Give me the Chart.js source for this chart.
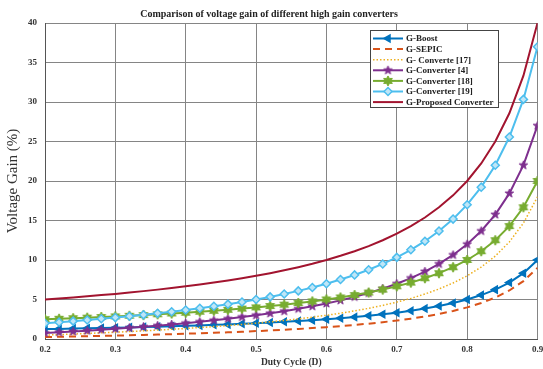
<!DOCTYPE html>
<html>
<head>
<meta charset="utf-8">
<script src="https://cdn.jsdelivr.net/npm/chart.js@4.4.0/dist/chart.umd.min.js"></script>
<style>
    html, body { margin: 0; padding: 0; background: #fff; }
    #wrap { width: 543px; height: 369px; }
</style>
</head>
<body>
<div id="wrap"><canvas id="gainChart" width="543" height="369"></canvas></div>
<script>
// Данные
const dutyCycle = [0.20, 0.22, 0.24, 0.26, 0.28, 0.30, 0.32, 0.34, 0.36, 0.38, 0.40, 0.42,
    0.44, 0.46, 0.48, 0.50, 0.52, 0.54, 0.56, 0.58, 0.60, 0.62, 0.64, 0.66,
    0.68, 0.70, 0.72, 0.74, 0.76, 0.78, 0.80, 0.82, 0.84, 0.86, 0.88, 0.90];

const gBoost = [1.25, 1.28, 1.32, 1.35, 1.39, 1.43, 1.47, 1.52, 1.56, 1.61, 1.67, 1.72,
    1.79, 1.85, 1.92, 2.00, 2.08, 2.17, 2.27, 2.38, 2.50, 2.63, 2.78, 2.94,
    3.13, 3.33, 3.57, 3.85, 4.17, 4.55, 5.00, 5.56, 6.25, 7.14, 8.33, 10.00];

const gSepic = [0.25, 0.28, 0.32, 0.35, 0.39, 0.43, 0.47, 0.52, 0.56, 0.61, 0.67, 0.72,
    0.79, 0.85, 0.92, 1.00, 1.08, 1.17, 1.27, 1.38, 1.50, 1.63, 1.78, 1.94,
    2.13, 2.33, 2.57, 2.85, 3.17, 3.55, 4.00, 4.56, 5.25, 6.14, 7.33, 9.00];

const gConv17 = [0.50, 0.56, 0.63, 0.70, 0.78, 0.86, 0.94, 1.03, 1.13, 1.23, 1.33, 1.45,
    1.57, 1.70, 1.85, 2.00, 2.17, 2.35, 2.55, 2.76, 3.00, 3.26, 3.56, 3.88,
    4.25, 4.67, 5.14, 5.69, 6.33, 7.09, 8.00, 9.11, 10.50, 12.29, 14.67, 18.00];

const gConv4 = [0.75, 0.85, 0.95, 1.05, 1.17, 1.29, 1.41, 1.55, 1.69, 1.84, 2.00, 2.17,
    2.36, 2.56, 2.77, 3.00, 3.25, 3.52, 3.82, 4.14, 4.50, 4.89, 5.33, 5.82,
    6.38, 7.00, 7.71, 8.54, 9.50, 10.64, 12.00, 13.67, 15.75, 18.43, 22.00, 27.00];

const gConv18 = [2.50, 2.56, 2.63, 2.70, 2.78, 2.86, 2.94, 3.03, 3.13, 3.23, 3.33, 3.45,
    3.57, 3.70, 3.85, 4.00, 4.17, 4.35, 4.55, 4.76, 5.00, 5.26, 5.56, 5.88,
    6.25, 6.67, 7.14, 7.69, 8.33, 9.09, 10.00, 11.11, 12.50, 14.29, 16.67, 20.00];

const gConv19 = [2.00, 2.13, 2.26, 2.41, 2.56, 2.71, 2.88, 3.06, 3.25, 3.45, 3.67, 3.90,
    4.14, 4.41, 4.69, 5.00, 5.33, 5.70, 6.09, 6.52, 7.00, 7.53, 8.11, 8.76,
    9.50, 10.33, 11.29, 12.38, 13.67, 15.18, 17.00, 19.22, 22.00, 25.57, 30.33, 37.00];

const gProposed = [5.00, 5.13, 5.26, 5.41, 5.56, 5.71, 5.88, 6.06, 6.25, 6.45, 6.67, 6.90,
    7.14, 7.41, 7.69, 8.00, 8.33, 8.70, 9.09, 9.52, 10.00, 10.53, 11.11, 11.76,
    12.50, 13.33, 14.29, 15.38, 16.67, 18.18, 20.00, 22.22, 25.00, 28.57, 33.33, 40.00];

const seriesNames = ["G-Boost", "G-SEPIC", "G- Converte [17]", "G-Converter [4]",
    "G-Converter [18]", "G-Converter [19]", "G-Proposed Converter"];

const serif = "'Liberation Serif', 'Times New Roman', serif";

// Маркер-звезда на отдельном canvas
function starMarker(spikes, outer, inner, fill, stroke) {
    const size = Math.ceil(outer * 2 + 2);
    const c = document.createElement("canvas");
    c.width = size;
    c.height = size;
    const g = c.getContext("2d");
    g.beginPath();
    for (let i = 0; i < spikes * 2; i++) {
        const r = i % 2 ? inner : outer;
        const a = -Math.PI / 2 + i * Math.PI / spikes;
        g.lineTo(size / 2 + r * Math.cos(a), size / 2 + r * Math.sin(a));
    }
    g.closePath();
    g.fillStyle = fill;
    g.fill();
    g.strokeStyle = stroke;
    g.lineWidth = 1;
    g.stroke();
    return c;
}

function toPoints(values) {
    return values.map((v, i) => ({ x: dutyCycle[i], y: v }));
}

const purpleStar = starMarker(5, 4.5, 1.8, "#7E2F8E", "#7E2F8E");
const greenStar = starMarker(6, 5, 2.8, "#77AC30", "#77AC30");

const datasets = [
    { data: gBoost, color: "#0072BD", width: 2, style: "triangle", rotation: -90, radius: 4, bg: "#0072BD" },
    { data: gSepic, color: "#D95319", width: 2, dash: [7, 5] },
    { data: gConv17, color: "#EDB120", width: 1.5, dash: [1.5, 2] },
    { data: gConv4, color: "#7E2F8E", width: 2, style: purpleStar, radius: 4 },
    { data: gConv18, color: "#77AC30", width: 2, style: greenStar, radius: 4 },
    { data: gConv19, color: "#4DBEEE", width: 2, style: "rectRot", radius: 4, bg: "#bfe6f7" },
    { data: gProposed, color: "#A2142F", width: 2 }
].map((d, i) => ({
    label: seriesNames[i],
    data: toPoints(d.data),
    borderColor: d.color,
    backgroundColor: d.bg || d.color,
    borderWidth: d.width,
    borderDash: d.dash || [],
    pointStyle: d.style || false,
    pointRotation: d.rotation || 0,
    pointRadius: d.style ? d.radius : 0,
    pointBorderWidth: 1.5,
    pointBorderColor: d.color,
    pointBackgroundColor: d.bg || d.color,
    tension: 0,
    order: 7 - i
}));

// Легенда внутри области графика
const legendBox = {
    id: "legendBox",
    afterDatasetsDraw(chart) {
        const ctx = chart.ctx;
        const x0 = 370, y0 = 30, w = 128, h = 77;
        ctx.save();
        ctx.fillStyle = "#fff";
        ctx.fillRect(x0, y0, w, h);
        ctx.strokeStyle = "#444";
        ctx.lineWidth = 1;
        ctx.strokeRect(x0 + 0.5, y0 + 0.5, w, h);
        chart.data.datasets.forEach((ds, i) => {
            const y = 38.5 + i * 10.6;
            ctx.strokeStyle = ds.borderColor;
            ctx.lineWidth = ds.borderWidth;
            ctx.setLineDash(ds.borderDash);
            ctx.beginPath();
            ctx.moveTo(373, y);
            ctx.lineTo(403, y);
            ctx.stroke();
            ctx.setLineDash([]);
            if (ds.pointStyle) {
                ctx.fillStyle = ds.pointBackgroundColor;
                ctx.strokeStyle = ds.pointBorderColor;
                ctx.lineWidth = ds.pointBorderWidth;
                Chart.helpers.drawPoint(ctx, {
                    pointStyle: ds.pointStyle,
                    rotation: ds.pointRotation,
                    radius: ds.pointRadius,
                    borderWidth: ds.pointBorderWidth
                }, 388, y);
            }
            ctx.fillStyle = "#222";
            ctx.font = "bold 9px " + serif;
            ctx.textBaseline = "middle";
            ctx.textAlign = "left";
            ctx.fillText(ds.label, 406, y + 0.5);
        });
        ctx.restore();
    }
};

new Chart(document.getElementById("gainChart"), {
    type: "line",
    data: { datasets: datasets },
    options: {
        responsive: false,
        animation: false,
        layout: { padding: { left: 0, right: 5, top: 0, bottom: 0 } },
        plugins: {
            legend: { display: false },
            tooltip: { enabled: false },
            title: {
                display: true,
                text: "Comparison of voltage gain of different high gain converters",
                color: "#222",
                font: { family: serif, size: 10, weight: "bold" },
                padding: { top: 8, bottom: 3 }
            }
        },
        scales: {
            x: {
                type: "linear",
                min: 0.2,
                max: 0.9,
                ticks: {
                    stepSize: 0.1,
                    padding: 5,
                    color: "#333",
                    font: { family: serif, size: 9, weight: "bold" },
                    callback: (v) => v.toFixed(1)
                },
                grid: { color: "#858585", lineWidth: 1, drawTicks: false },
                border: { color: "#555", width: 1 },
                title: {
                    display: true,
                    text: "Duty Cycle (D)",
                    color: "#333",
                    font: { family: serif, size: 9.5, weight: "bold" },
                    padding: { top: 0, bottom: 1 }
                },
                afterFit: (scale) => {
                    scale.height = 30;
                    scale.paddingLeft = 0;
                    scale.paddingRight = 0;
                }
            },
            y: {
                min: 0,
                max: 40,
                ticks: {
                    stepSize: 5,
                    padding: 8,
                    color: "#333",
                    font: { family: serif, size: 9, weight: "bold" }
                },
                grid: { color: "#858585", lineWidth: 1, drawTicks: false },
                border: { color: "#555", width: 1 },
                title: {
                    display: true,
                    text: "Voltage Gain (%)",
                    color: "#333",
                    font: { family: serif, size: 15 },
                    padding: { top: 4, bottom: 0 }
                },
                afterFit: (scale) => {
                    scale.width = 45;
                    scale.paddingTop = 0;
                    scale.paddingBottom = 0;
                }
            }
        }
    },
    plugins: [legendBox]
});
</script>
</body>
</html>
